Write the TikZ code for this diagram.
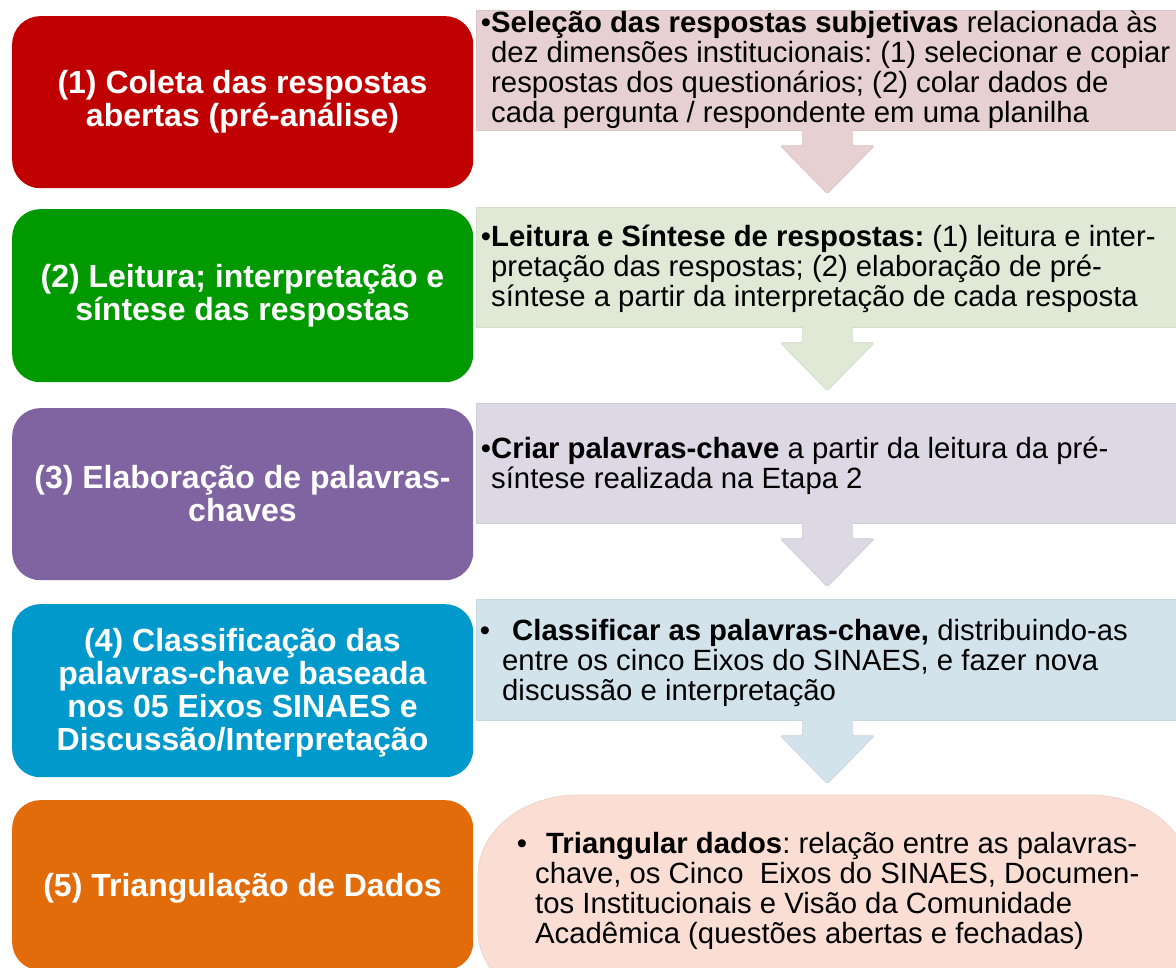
\documentclass[tikz,border=0pt]{standalone}
\usepackage{fontspec}
\setmainfont{Liberation Sans}
\usetikzlibrary{calc}
\frenchspacing
\definecolor{cRed}{HTML}{C00000}
\definecolor{cGreen}{HTML}{009A00}
\definecolor{cPurple}{HTML}{8064A2}
\definecolor{cBlue}{HTML}{0099CC}
\definecolor{cOrange}{HTML}{E36C0A}
\definecolor{lRed}{HTML}{E6D0D2}
\definecolor{lGreen}{HTML}{E0E8D6}
\definecolor{lPurple}{HTML}{DCD8E4}
\definecolor{lBlue}{HTML}{D2E3EB}
\definecolor{lOrange}{HTML}{FADED4}
\newcommand\mkarrow[2]{%
  \fill[#2, rounded corners=1.5pt] ($(#1.south)+(-25,-1)$) -- ++(0,16) -- ++(-22,0) -- ++(47,48) -- ++(47,-48) -- ++(-22,0) -- ++(0,-16) -- cycle;
  \draw[#2!94!black, line width=0.7pt, rounded corners=1.5pt] ($(#1.south)+(-25,1)$) -- ++(0,14) -- ++(-22,0) -- ++(47,48) -- ++(47,-48) -- ++(-22,0) -- ++(0,-14);
}
\tikzset{
  stepbox/.style={rectangle, rounded corners=28pt, minimum width=461pt, inner sep=0pt, anchor=north west, draw=none},
  infobox/.style={rectangle, minimum width=702pt, minimum height=120pt, inner sep=0pt, anchor=north west},
  lefttext/.style={inner sep=0pt, anchor=base, text=white},
  righttext/.style={inner sep=0pt, anchor=base west, text=black},
}
\newcommand\lefttxt[1]{\parbox[t]{455pt}{\centering\fontsize{32}{33}\selectfont\bfseries #1}}
\newcommand\righttxt[1]{\parbox[t]{700pt}{\raggedright\fontsize{29.3}{30}\selectfont\frenchspacing\leavevmode #1}}
\begin{document}
\begin{tikzpicture}[x=1pt, y=-1pt]
\useasboundingbox (0,0) rectangle (1176,968);
\clip (0,0) rectangle (1176,968);
\fill[white] (0,0) rectangle (1176,968);

% left step boxes
\node[stepbox, fill=cRed, minimum height=172pt] (l1) at (12,16) {};
\node[stepbox, fill=cGreen, minimum height=173pt] (l2) at (12,209) {};
\node[stepbox, fill=cPurple, minimum height=172pt] (l3) at (12,408) {};
\node[stepbox, fill=cBlue, minimum height=173pt] (l4) at (12,604) {};
\node[stepbox, fill=cOrange, minimum height=170pt] (l5) at (12,800) {};

\node[lefttext] (lt1) at (242.5,94) {\lefttxt{(1) Coleta das respostas\\abertas (pré-análise)}};
\node[lefttext] (lt2) at (242.5,288) {\lefttxt{(2) Leitura; interpretação e\\síntese das respostas}};
\node[lefttext] (lt3) at (242.5,488) {\lefttxt{(3) Elaboração de palavras-\\chaves}};
\node[lefttext] (lt4) at (242.5,651) {\lefttxt{(4) Classificação das\\palavras-chave baseada\\nos 05 Eixos SINAES e\\Discussão/Interpretação}};
\node[lefttext] (lt5) at (242.5,896) {\lefttxt{(5) Triangulação de Dados}};

% right info boxes
\node[infobox, fill=lRed, draw=lRed!95!black, line width=0.7pt] (r1) at (476,10) {};
\node[infobox, fill=lGreen, draw=lGreen!95!black, line width=0.7pt] (r2) at (476,207) {};
\node[infobox, fill=lPurple, draw=lPurple!95!black, line width=0.7pt] (r3) at (476,403) {};
\node[infobox, fill=lBlue, draw=lBlue!95!black, line width=0.7pt, minimum height=121pt] (r4) at (476,599) {};
\path[fill=lOrange, draw=lOrange!95!black, line width=0.7pt] (478,930) -- (478,875) .. controls (478,831) and (523,795) .. (578,795) -- (1090,795) .. controls (1145,795) and (1190,831) .. (1190,875) -- (1190,930) .. controls (1190,974) and (1145,1010) .. (1090,1010) -- (578,1010) .. controls (523,1010) and (478,974) .. (478,930) -- cycle;

% block arrows
\mkarrow{r1}{lRed}
\mkarrow{r2}{lGreen}
\mkarrow{r3}{lPurple}
\mkarrow{r4}{lBlue}

% right texts
\node[righttext] (t1) at (491,33) {\righttxt{\llap{•}\textbf{Seleção das respostas subjetivas} relacionada às\\dez dimensões institucionais: (1) selecionar e copiar\\respostas dos questionários; (2) colar dados de\\cada pergunta / respondente em uma planilha}};
\node[righttext] (t2) at (491,247) {\righttxt{\llap{•}\textbf{Leitura e Síntese de respostas:} (1) leitura e inter-\\pretação das respostas; (2) elaboração de pré-\\síntese a partir da interpretação de cada resposta}};
\node[righttext] (t3) at (491,458) {\righttxt{\llap{•}\textbf{Criar palavras-chave} a partir da leitura da pré-\\síntese realizada na Etapa 2}};
\node[righttext] (t4) at (502,640) {\righttxt{\llap{•\hspace{12pt}}\hspace{10pt}\textbf{Classificar as palavras-chave,} distribuindo-as\\entre os cinco Eixos do SINAES, e fazer nova\\discussão e interpretação}};
\node[righttext] (t5) at (535,853) {\righttxt{\llap{•\hspace{8pt}}\hspace{11pt}\textbf{Triangular dados}: relação entre as palavras-\\chave, os Cinco\ \ Eixos do SINAES, Documen-\\tos Institucionais e Visão da Comunidade\\Acadêmica (questões abertas e fechadas)}};
\end{tikzpicture}
\end{document}
